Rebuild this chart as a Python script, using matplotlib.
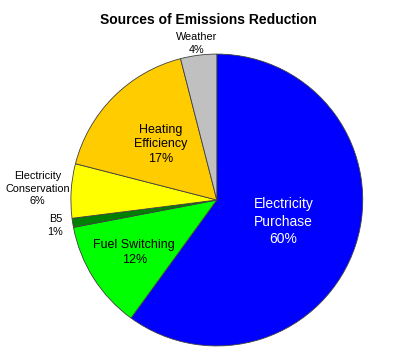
import numpy as np
import matplotlib
matplotlib.use("Agg")
import matplotlib.pyplot as plt

plt.rcParams['font.family'] = ['Liberation Sans', 'DejaVu Sans']

# data
labels = ['Electricity\nPurchase', 'Fuel Switching', 'B5', 'Electricity\nConservation',
          'Heating\nEfficiency', 'Weather']
values = [60, 12, 1, 6, 17, 4]
colors = ['#0000FF', '#00FF00', '#008000', '#FFFF00', '#FFCC00', '#C0C0C0']

# label placement (radius fraction, colour, size)
label_r = [0.48, 0.67, 1.12, 1.23, 0.54, 1.08]
label_col = ['white', 'black', 'black', 'black', 'black', 'black']
label_fs = [10, 9, 7.8, 7.8, 9, 7.8]

fig = plt.figure(figsize=(3.96, 3.62), dpi=100)
ax = fig.add_axes([0.179, 0.044, 0.737, 0.807])
wedges, _ = ax.pie(values, colors=colors, startangle=90, counterclock=False,
                   wedgeprops=dict(edgecolor='#404040', linewidth=0.6))
ax.set_xlim(-1, 1)
ax.set_ylim(-1, 1)
ax.set_aspect('equal')

for w, lab, v, r, c, fs in zip(wedges, labels, values, label_r, label_col, label_fs):
    ang = np.deg2rad((w.theta1 + w.theta2) / 2)
    ax.text(r * np.cos(ang), r * np.sin(ang), '%s\n%d%%' % (lab, v),
            ha='center', va='center', color=c, fontsize=fs, linespacing=1.3,
            clip_on=False)

fig.text(0.525, 0.945, 'Sources of Emissions Reduction', ha='center', va='center',
         fontsize=10, fontweight='bold')

fig.savefig('out.png', dpi=100)
